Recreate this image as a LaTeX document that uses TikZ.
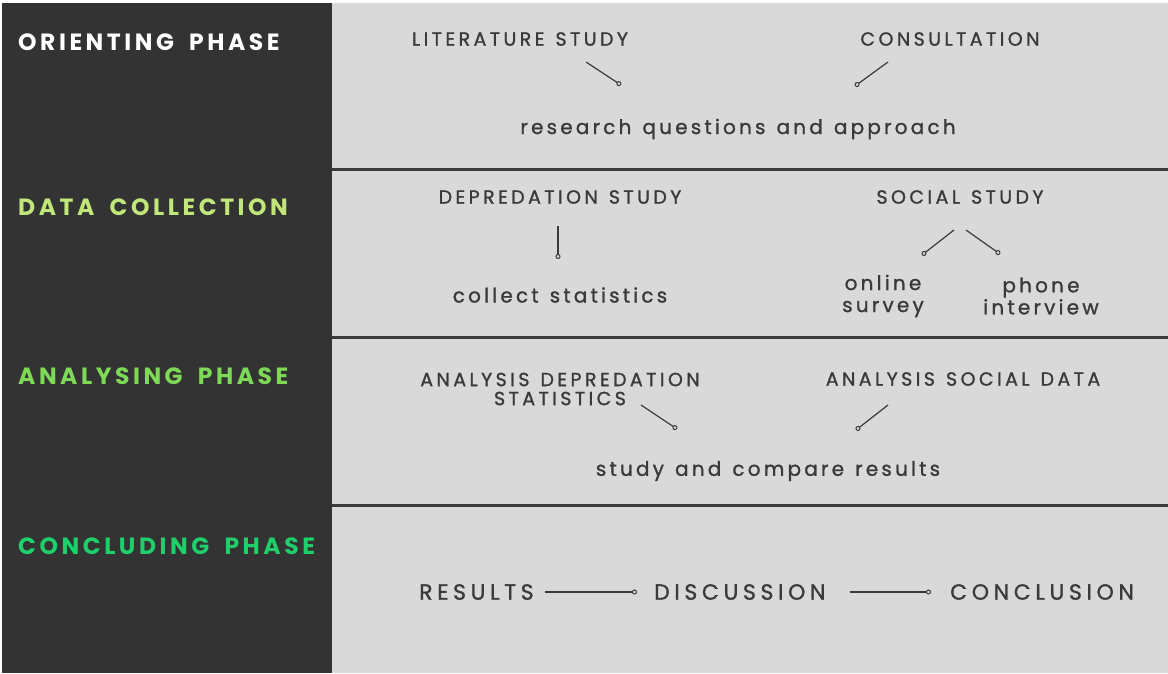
\documentclass[tikz,border=0pt]{standalone}
\usepackage{fontspec}
\usepackage{tikz}
\usetikzlibrary{arrows.meta}
\setmainfont{Poppins}
\newfontfamily\phasefont[LetterSpace=15,WordSpace=1.8]{Poppins}
\newfontfamily\labelfont[LetterSpace=18,WordSpace=1.3,FakeBold=1.2]{Poppins}
\newfontfamily\stepfont[LetterSpace=16,WordSpace=1.3,FakeBold=1.2]{Poppins}
\newfontfamily\finalfont[LetterSpace=21,FakeBold=1.2]{Poppins}

\definecolor{paneldark}{HTML}{333333}
\definecolor{panelgrey}{HTML}{D9D9D9}
\definecolor{inkgrey}{HTML}{3A3A3A}
\definecolor{collectgreen}{HTML}{C1E67A}
\definecolor{analysegreen}{HTML}{7ED957}
\definecolor{concludegreen}{HTML}{1ECF6A}

\tikzset{
  phase/.style={anchor=west, font=\phasefont\fontsize{23.5}{26}\selectfont\bfseries},
  caps/.style={text=inkgrey, align=center, font=\labelfont\fontsize{19}{19}\selectfont},
  task/.style={text=inkgrey, align=center, font=\stepfont\fontsize{20}{22}\selectfont},
  final/.style={text=inkgrey, font=\finalfont\fontsize{22}{24}\selectfont},
  link/.style={inkgrey, line width=1.2pt, -{Circle[open,length=5pt,line width=1pt]}},
  divider/.style={draw=inkgrey, line width=3pt}
}

\begin{document}
\begin{tikzpicture}[x=1pt, y=-1pt, every node/.style={inner sep=0pt}]
    \useasboundingbox (0,0) rectangle (1168,673);
    \fill[white] (0,0) rectangle (1168,673);
    \fill[panelgrey] (332,3) rectangle (1168,673);% right panel
    \fill[paneldark] (2,3) rectangle (332,673);% left column
    \foreach \y in {169,337,505}{% row separators
      \draw[divider] (332,\y) -- (1168,\y);
    }

    % phase names
    \node[phase, text=white]         (orient)   at (18,42)  {ORIENTING PHASE};
    \node[phase, text=collectgreen]  (collect)  at (18,207) {DATA COLLECTION};
    \node[phase, text=analysegreen]  (analyse)  at (18,376) {ANALYSING PHASE};
    \node[phase, text=concludegreen] (conclude) at (18,546) {CONCLUDING PHASE};

    % orienting phase
    \node[caps] (literature)   at (520,39)  {LITERATURE STUDY};
    \node[caps] (consultation) at (950,39)  {CONSULTATION};
    \node[task] (questions)    at (738,129) {research questions and approach};
    \coordinate (lit-a) at (586,62);
    \coordinate (lit-b) at (621,85);
    \coordinate (con-a) at (888,62);
    \coordinate (con-b) at (855,86);
    \draw[link] (lit-a) -- (lit-b);
    \draw[link] (con-a) -- (con-b);

    % data collection
    \node[caps] (depredation) at (560,197) {DEPREDATION STUDY};
    \node[caps] (social)      at (960,197) {SOCIAL STUDY};
    \node[task] (statistics)  at (560,295) {collect statistics};
    \node[task] (online)      at (883,296) {online\\survey};
    \node[task] (phone)       at (1041,296) {phone\\interview};
    \coordinate (dep-a) at (558,226);
    \coordinate (dep-b) at (558,259);
    \coordinate (soc-a) at (954,230);
    \coordinate (soc-b) at (922,255);
    \coordinate (soc-c) at (966,230);
    \coordinate (soc-d) at (1000,254);
    \draw[link] (dep-a) -- (dep-b);
    \draw[link] (soc-a) -- (soc-b);
    \draw[link] (soc-c) -- (soc-d);

    % analysing phase
    \node[caps] (anadep)  at (560,389) {ANALYSIS DEPREDATION\\STATISTICS};
    \node[caps] (anasoc)  at (963,379) {ANALYSIS SOCIAL DATA};
    \node[task] (compare) at (768,471) {study and compare results};
    \coordinate (ana-a) at (641,405);
    \coordinate (ana-b) at (677,429);
    \coordinate (ana-c) at (888,405);
    \coordinate (ana-d) at (856,430);
    \draw[link] (ana-a) -- (ana-b);
    \draw[link] (ana-c) -- (ana-d);

    % concluding phase
    \node[final, anchor=west] (results)    at (419,592) {RESULTS};
    \node[final, anchor=west] (discussion) at (654,592) {DISCUSSION};
    \node[final, anchor=west] (conclusion) at (950,592) {CONCLUSION};
    \draw[link] ([xshift=11pt]results.east) -- ([xshift=-17pt]discussion.west);
    \draw[link] ([xshift=24pt]discussion.east) -- ([xshift=-19pt]conclusion.west);
\end{tikzpicture}
\end{document}
